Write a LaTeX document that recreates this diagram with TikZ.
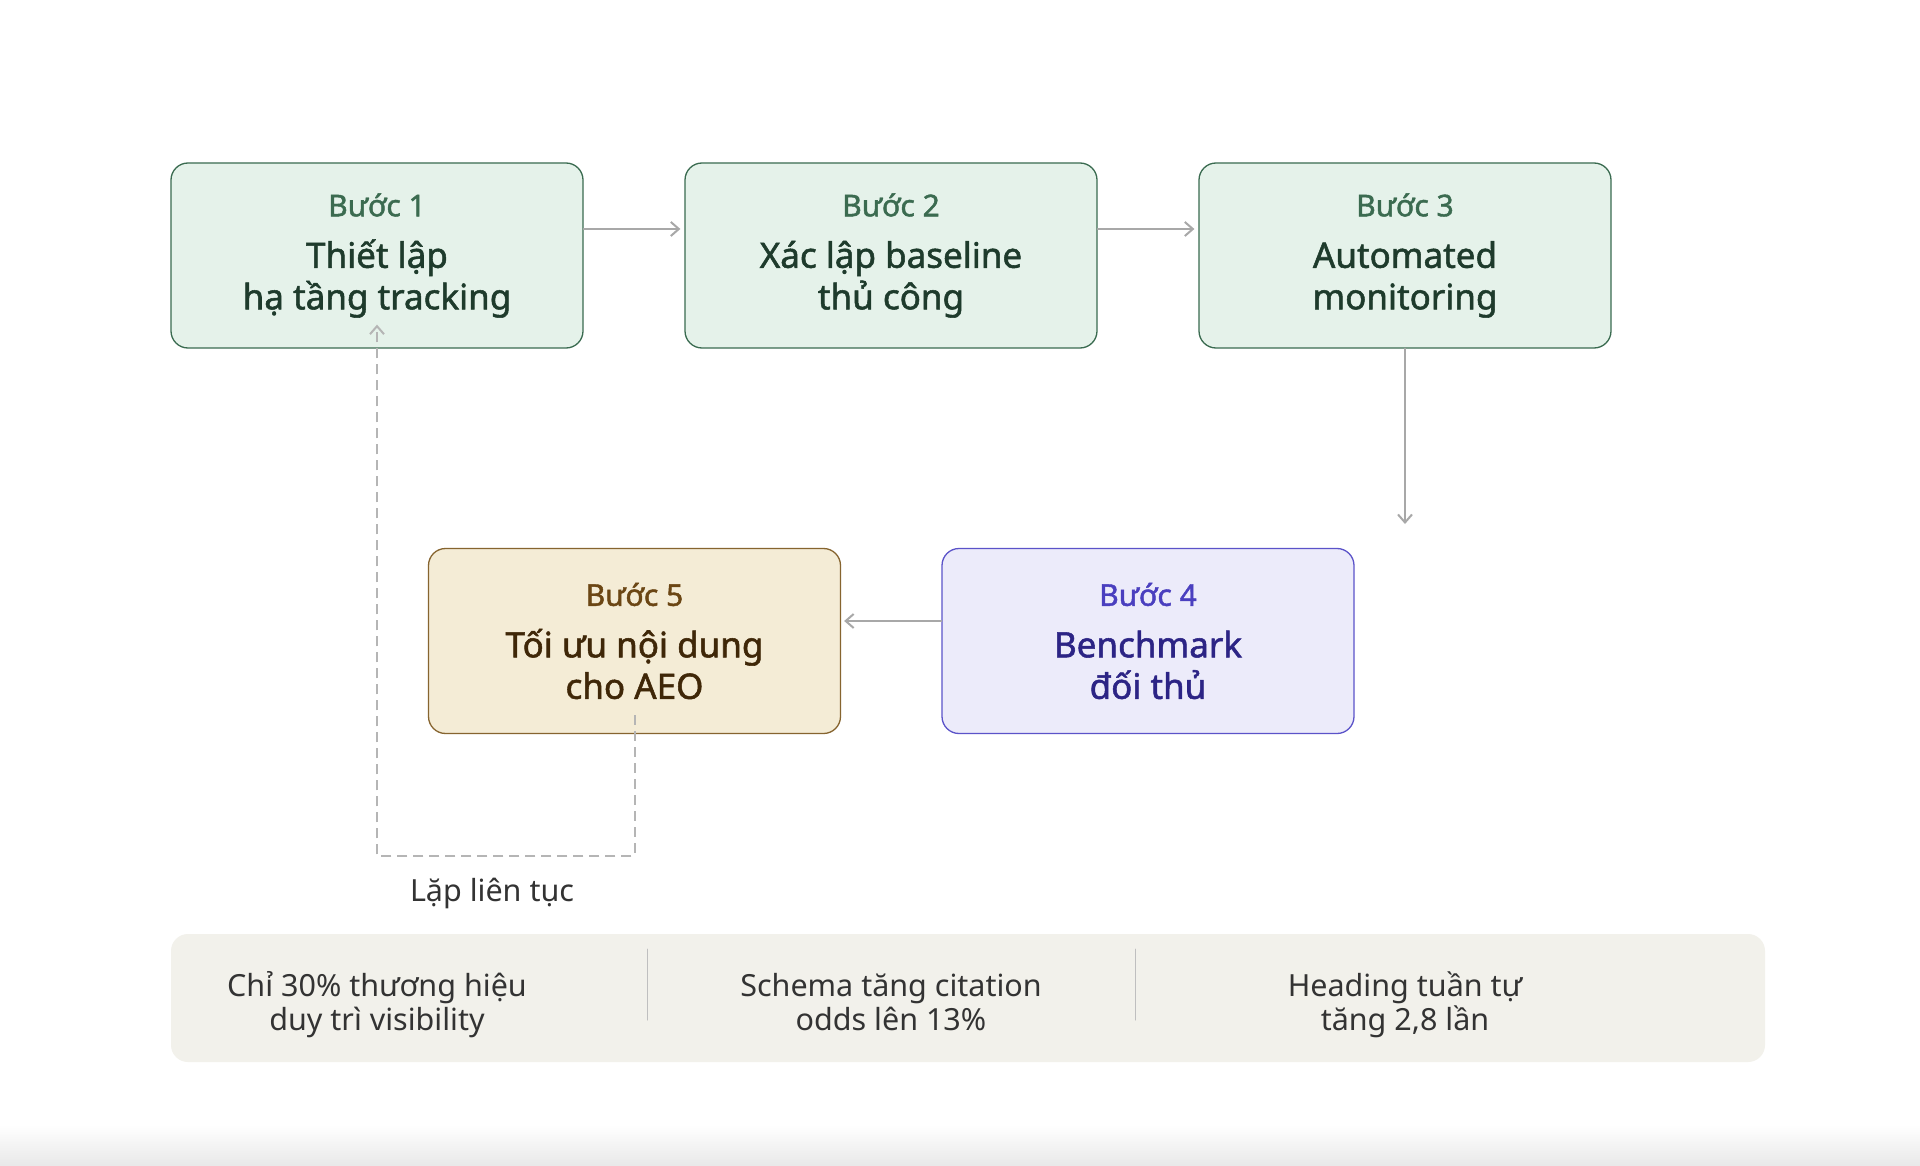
\documentclass[tikz,border=0pt]{standalone}
\usepackage{fontspec}
\setmainfont{Noto Sans}
\newfontfamily\titlefont[FakeBold=1.5]{Noto Sans}
\usetikzlibrary{arrows.meta}
\definecolor{greenfill}{HTML}{E5F2EA}
\definecolor{greenline}{HTML}{3A6B50}
\definecolor{greensub}{HTML}{3B6B50}
\definecolor{greentitle}{HTML}{1E3B2C}
\definecolor{tanfill}{HTML}{F4ECD6}
\definecolor{tanline}{HTML}{86642F}
\definecolor{tansub}{HTML}{6B4614}
\definecolor{tantitle}{HTML}{3F2708}
\definecolor{bluefill}{HTML}{ECEBFA}
\definecolor{blueline}{HTML}{5B53C9}
\definecolor{bluesub}{HTML}{4A3FBF}
\definecolor{bluetitle}{HTML}{2C2485}
\definecolor{flowgray}{HTML}{A8A8A8}
\definecolor{panelfill}{HTML}{F2F1EB}
\definecolor{textgray}{HTML}{333333}
\newcommand{\subtxt}[2]{{\fontsize{30}{32}\selectfont\color{#1}#2}}

\begin{document}
\begin{tikzpicture}[x=1pt,y=-1pt,>={Straight Barb[length=8pt,width=14pt]},line cap=round,
  stepbox/.style={draw,rounded corners=17pt,line width=1.3pt,minimum width=412pt,minimum height=185pt,align=center,
    font={\titlefont\fontsize{35}{41.5}\selectfont}},
  greenbox/.style={stepbox,fill=greenfill,draw=greenline,text=greentitle},
  tanbox/.style={stepbox,fill=tanfill,draw=tanline,text=tantitle},
  bluebox/.style={stepbox,fill=bluefill,draw=blueline,text=bluetitle},
  flow/.style={->,draw=flowgray,line width=2pt},
  note/.style={align=center,text=textgray,font={\fontsize{30.5}{34}\selectfont}}]
\useasboundingbox[fill=white] (0,0) rectangle (1920,1166);
\shade[top color=white,bottom color=black!9] (0,1125) rectangle (1920,1166);
% steps
\node[greenbox] (b1) at (377,255.5) {\subtxt{greensub}{Bước 1}\\[10pt]Thiết lập\\hạ tầng tracking};
\node[greenbox] (b2) at (891,255.5) {\subtxt{greensub}{Bước 2}\\[10pt]Xác lập baseline\\thủ công};
\node[greenbox] (b3) at (1405,255.5) {\subtxt{greensub}{Bước 3}\\[10pt]Automated\\monitoring};
\node[bluebox] (b4) at (1148,641) {\subtxt{bluesub}{Bước 4}\\[10pt]Benchmark\\đối thủ};
\node[tanbox] (b5) at (634.5,641) {\subtxt{tansub}{Bước 5}\\[10pt]Tối ưu nội dung\\cho AEO};
\coordinate (c4) at (1405,524);
\coordinate (turn) at (377,856);
% connectors
\draw[flow] ([yshift=26.5pt]b1.east) -- ([yshift=26.5pt,xshift=-4pt]b2.west);
\draw[flow] ([yshift=26.5pt]b2.east) -- ([yshift=26.5pt,xshift=-4pt]b3.west);
\draw[flow] (b3.south) -- (c4);
\draw[flow] ([yshift=20pt]b4.west) -- ([yshift=20pt,xshift=3pt]b5.east);
\draw[flow,draw=flowgray!85,dash pattern=on 10pt off 6pt,line cap=butt] ([yshift=19pt]b5.south) |- (turn) -- ([yshift=24pt]b1.south);
\node[note] (loop) at (492,893) {Lặp liên tục};
% facts
\node[fill=panelfill,rounded corners=17pt,minimum width=1594pt,minimum height=128pt] (panel) at (968,998) {};
\draw[black!25,line width=1pt] (647,949) -- (647,1020);
\draw[black!25,line width=1pt] (1135,949) -- (1135,1020);
\node[note] (f1) at (377,1001) {\vphantom{Ỗ}Chỉ 30\% thương hiệu\\duy trì visibility\vphantom{g}};
\node[note] (f2) at (891,1001) {\vphantom{Ỗ}Schema tăng citation\\odds lên 13\%\vphantom{g}};
\node[note] (f3) at (1405,1001) {\vphantom{Ỗ}Heading tuần tự\\tăng 2,8 lần\vphantom{g}};
\end{tikzpicture}
\end{document}
